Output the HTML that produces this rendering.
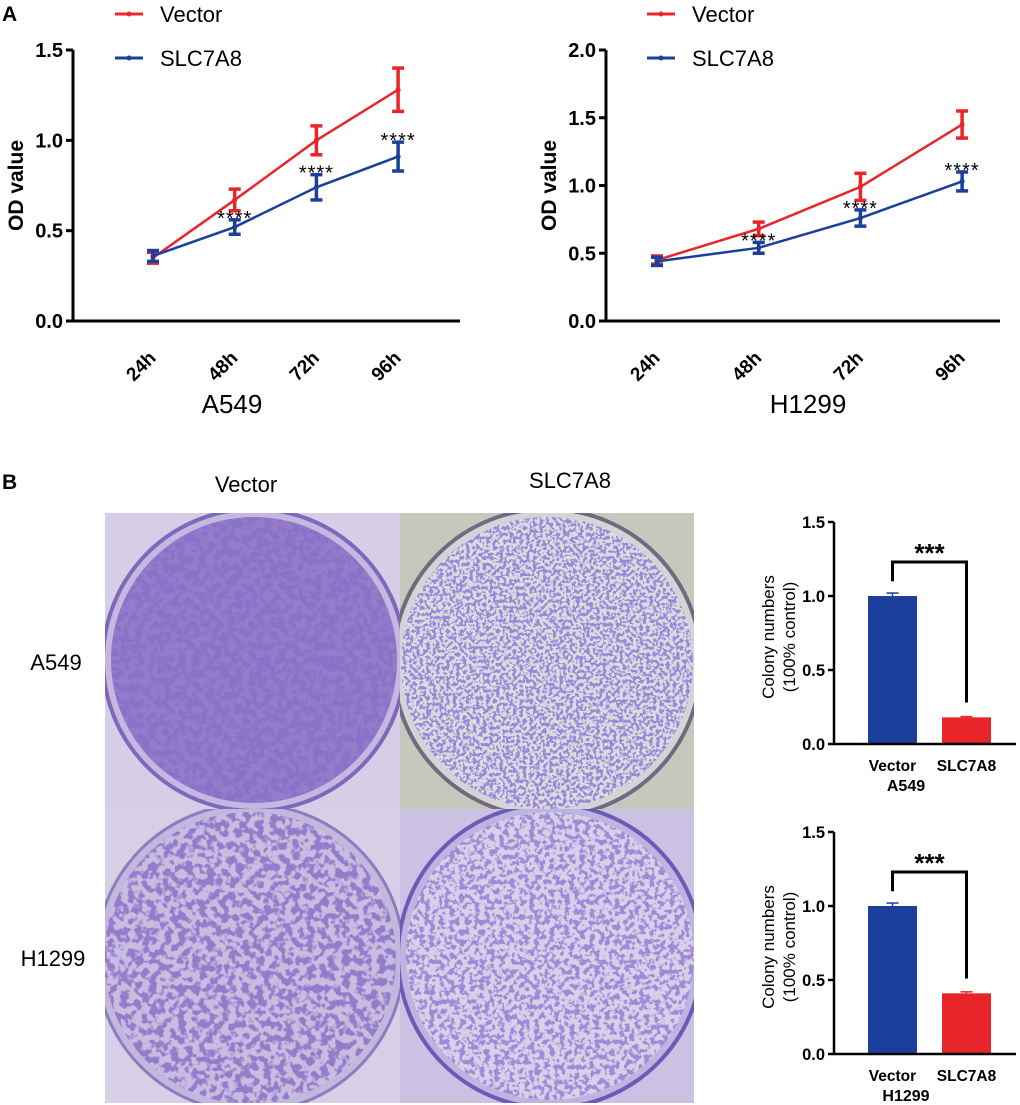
<!DOCTYPE html>
<html><head><meta charset="utf-8">
<style>
body{margin:0;background:#fff;}
svg{display:block;font-family:"Liberation Sans",Arial,sans-serif;}
</style></head>
<body>
<svg id="fig" width="1020" height="1105" viewBox="0 0 1020 1105" xmlns="http://www.w3.org/2000/svg">
<defs>
<filter id="speckDense" x="0" y="0" width="100%" height="100%">
<feTurbulence type="fractalNoise" baseFrequency="0.14" numOctaves="2" seed="3"/>
<feColorMatrix type="matrix" values="0 0 0 0 0.3  0 0 0 0 0.2  0 0 0 0 0.6  0 0 0 -8 4.4"/>
</filter>
<filter id="speckSparse" x="0" y="0" width="100%" height="100%">
<feTurbulence type="fractalNoise" baseFrequency="0.3" numOctaves="2" seed="7"/>
<feColorMatrix type="matrix" values="0 0 0 0 0.3  0 0 0 0 0.25  0 0 0 0 0.7  0 0 0 -12 6.3"/>
</filter>
<filter id="speckMid" x="0" y="0" width="100%" height="100%">
<feTurbulence type="fractalNoise" baseFrequency="0.2" numOctaves="2" seed="11"/>
<feColorMatrix type="matrix" values="0 0 0 0 0.35  0 0 0 0 0.25  0 0 0 0 0.68  0 0 0 -10 5.2"/>
</filter>
<clipPath id="c1"><circle cx="254" cy="660" r="143"/></clipPath>
<clipPath id="c2"><circle cx="547" cy="663" r="146"/></clipPath>
<clipPath id="c3"><circle cx="250" cy="958" r="146"/></clipPath>
<clipPath id="c4"><circle cx="550" cy="956" r="144"/></clipPath>
<clipPath id="t1"><rect x="105" y="513" width="295" height="296"/></clipPath>
<clipPath id="t2"><rect x="400" y="513" width="294" height="296"/></clipPath>
<clipPath id="t3"><rect x="105" y="809" width="295" height="294"/></clipPath>
<clipPath id="t4"><rect x="400" y="809" width="294" height="294"/></clipPath>
</defs>

<text x="2" y="21" font-size="21" font-weight="bold">A</text>
<text x="2" y="489" font-size="21" font-weight="bold">B</text>

<g id="lc1"></g>
<g id="lc2"></g>

<g>
<text x="246" y="492" font-size="22" text-anchor="middle">Vector</text>
<text x="570" y="488" font-size="22" text-anchor="middle">SLC7A8</text>
<text x="56" y="670" font-size="22" text-anchor="middle">A549</text>
<text x="53" y="966" font-size="22" text-anchor="middle">H1299</text>

<g clip-path="url(#t1)">
<rect x="105" y="513" width="295" height="296" fill="#d6cde6"/>
<circle cx="254" cy="660" r="151" fill="#c4b8e0" stroke="#7d68bb" stroke-width="4"/>
<circle cx="254" cy="660" r="143" fill="#8a72c8"/>
<rect x="105" y="513" width="295" height="296" fill="#fff" filter="url(#speckDense)" clip-path="url(#c1)"/>
</g>
<g clip-path="url(#t2)">
<rect x="400" y="513" width="294" height="296" fill="#c6c7bd"/>
<circle cx="547" cy="663" r="154" fill="#d4d3d6" stroke="#6f6a80" stroke-width="4"/>
<circle cx="547" cy="663" r="146" fill="#dcdcdf"/>
<rect x="400" y="513" width="294" height="296" fill="#fff" filter="url(#speckSparse)" clip-path="url(#c2)"/>
</g>
<g clip-path="url(#t3)">
<rect x="105" y="809" width="295" height="294" fill="#d6cfe6"/>
<circle cx="250" cy="958" r="154" fill="#c2b8de" stroke="#8c7cc0" stroke-width="3"/>
<circle cx="250" cy="958" r="146" fill="#c8bce0"/>
<rect x="105" y="809" width="295" height="294" fill="#fff" filter="url(#speckDense)" clip-path="url(#c3)"/>
</g>
<g clip-path="url(#t4)">
<rect x="400" y="809" width="294" height="294" fill="#cbc1e2"/>
<circle cx="550" cy="956" r="152" fill="#c0b3e0" stroke="#6d5ab8" stroke-width="4"/>
<circle cx="550" cy="956" r="144" fill="#d6d0e8"/>
<rect x="400" y="809" width="294" height="294" fill="#fff" filter="url(#speckMid)" clip-path="url(#c4)"/>
</g>
</g>

<g id="bc1"></g>
<g id="bc2"></g>
</svg>

<script>
const timeLabels = ["24h","48h","72h","96h"];
const a549Vector = [0.35, 0.67, 1.00, 1.28];
const a549VectorErr = [0.03, 0.06, 0.08, 0.12];
const a549Slc = [0.36, 0.52, 0.74, 0.91];
const a549SlcErr = [0.03, 0.04, 0.07, 0.08];
const h1299Vector = [0.45, 0.68, 0.99, 1.45];
const h1299VectorErr = [0.03, 0.05, 0.10, 0.10];
const h1299Slc = [0.44, 0.54, 0.76, 1.03];
const h1299SlcErr = [0.03, 0.04, 0.06, 0.07];
const a549Ticks = ["0.0","0.5","1.0","1.5"];
const h1299Ticks = ["0.0","0.5","1.0","1.5","2.0"];
const sigLabels = ["****","****","****"];
const barCategories = ["Vector","SLC7A8"];
const barA549 = [1.00, 0.18];
const barA549Err = [0.02, 0.005];
const barH1299 = [1.00, 0.41];
const barH1299Err = [0.02, 0.01];
const barTicks = ["0.0","0.5","1.0","1.5"];

const NS="http://www.w3.org/2000/svg";
function mk(parent, tag, attrs, txt){
  const e=document.createElementNS(NS,tag);
  for(const k in attrs) e.setAttribute(k,attrs[k]);
  if(txt!==undefined) e.textContent=txt;
  parent.appendChild(e); return e;
}
const RED="#e8262a", BLUE="#1c3f9b";

function lineChart(gid, o){
  const g=document.getElementById(gid);
  const ymax=parseFloat(o.ticks[o.ticks.length-1]);
  const y=v=>o.y0-(v/ymax)*(o.y0-o.y1);
  const x=i=>o.xs+i*o.dx;
  let e=mk(g,'line',{x1:o.ax,y1:o.y1,x2:o.ax,y2:o.y0+1.5,stroke:'#000','stroke-width':3});
   
  e=mk(g,'line',{x1:o.ax-1.5,y1:o.y0,x2:o.axEnd,y2:o.y0,stroke:'#000','stroke-width':3});
   
  o.ticks.forEach(t=>{
    const v=parseFloat(t), yy=y(v);
    mk(g,'line',{x1:o.ax-7,y1:yy,x2:o.ax,y2:yy,stroke:'#000','stroke-width':3});
    const tt=mk(g,'text',{x:o.ax-10,y:yy+7,'font-size':20,'font-weight':'bold','text-anchor':'end'},t);
     
  });
  timeLabels.forEach((t,i)=>{
    const tt=mk(g,'text',{x:x(i)+4,y:o.y0+38,'font-size':19,'font-weight':'bold','text-anchor':'end',transform:`rotate(-45 ${x(i)+4} ${o.y0+38})`},t);
     
  });
  let tt=mk(g,'text',{x:0,y:0,'font-size':21,'font-weight':'bold','text-anchor':'middle',transform:`translate(${o.ax-50} ${(o.y0+o.y1)/2}) rotate(-90)`},'OD value');
   
  tt=mk(g,'text',{x:o.titleX,y:413,'font-size':26,'text-anchor':'middle'},o.title);
   
  [[RED,'Vector',14],[BLUE,'SLC7A8',58]].forEach(([c,l,ly])=>{
    const lg=mk(g,'g',{});
     
    mk(lg,'line',{x1:o.legX,y1:ly,x2:o.legX+28,y2:ly,stroke:c,'stroke-width':3});
    mk(lg,'circle',{cx:o.legX+14,cy:ly,r:2.5,fill:c});
    mk(lg,'text',{x:o.legX+45,y:ly+8,'font-size':22},l);
  });
  const series=[[o.vec,o.vecErr,RED,'vector-series'],[o.slc,o.slcErr,BLUE,'slc7a8-series']];
  series.forEach(([vals,errs,c,name])=>{
    const sg=mk(g,'g',{});
     
    mk(sg,'polyline',{points:vals.map((v,i)=>x(i)+','+y(v)).join(' '),fill:'none',stroke:c,'stroke-width':2.5});
    vals.forEach((v,i)=>{
      const top=y(v+errs[i]), bot=y(v-errs[i]);
      const eb=mk(sg,'g',{});
       
      mk(eb,'line',{x1:x(i),y1:top,x2:x(i),y2:bot,stroke:c,'stroke-width':3.5});
      mk(eb,'line',{x1:x(i)-6,y1:top,x2:x(i)+6,y2:top,stroke:c,'stroke-width':3.5});
      mk(eb,'line',{x1:x(i)-6,y1:bot,x2:x(i)+6,y2:bot,stroke:c,'stroke-width':3.5});
      mk(eb,'circle',{cx:x(i),cy:y(v),r:2.5,fill:c});
    });
  });
  sigLabels.forEach((s,k)=>{
    const i=k+1;
    const tt=mk(g,'text',{x:x(i),y:y(o.slc[i]+o.slcErr[i])+5,'font-size':20,'text-anchor':'middle','letter-spacing':'1'},s);
     
  });
}

lineChart('lc1',{ax:73,axEnd:460,y0:321,y1:50,xs:153,dx:81.7,ticks:a549Ticks,vec:a549Vector,vecErr:a549VectorErr,slc:a549Slc,slcErr:a549SlcErr,title:'A549',titleX:232,legX:115});
lineChart('lc2',{ax:606,axEnd:1000,y0:321,y1:50,xs:657,dx:101.7,ticks:h1299Ticks,vec:h1299Vector,vecErr:h1299VectorErr,slc:h1299Slc,slcErr:h1299SlcErr,title:'H1299',titleX:808,legX:647});

function barChart(gid,o){
  const g=document.getElementById(gid);
  const ymax=parseFloat(o.ticks[o.ticks.length-1]);
  const y=v=>o.y0-(v/ymax)*(o.y0-o.y1);
  const bx=[868,942], bw=49, cols=[BLUE,RED];
  o.vals.forEach((v,i)=>{
    const r=mk(g,'rect',{x:bx[i],y:y(v),width:bw,height:o.y0-y(v),fill:cols[i]});
     
    const t=y(v+o.errs[i]);
    mk(g,'line',{x1:bx[i]+bw/2,y1:t,x2:bx[i]+bw/2,y2:y(v),stroke:cols[i],'stroke-width':1.5});
    mk(g,'line',{x1:bx[i]+bw/2-6,y1:t,x2:bx[i]+bw/2+6,y2:t,stroke:cols[i],'stroke-width':1.5});
    const tt=mk(g,'text',{x:bx[i]+bw/2,y:o.y0+27,'font-size':15.5,'font-weight':'bold','text-anchor':'middle'},barCategories[i]);
     
  });
  let e=mk(g,'line',{x1:834,y1:o.y1,x2:834,y2:o.y0+1,stroke:'#000','stroke-width':2.5});
   
  e=mk(g,'line',{x1:833,y1:o.y0,x2:1016,y2:o.y0,stroke:'#000','stroke-width':2.5});
   
  o.ticks.forEach(t=>{
    const yy=y(parseFloat(t));
    mk(g,'line',{x1:828,y1:yy,x2:834,y2:yy,stroke:'#000','stroke-width':2.5});
    const tt=mk(g,'text',{x:825,y:yy+6,'font-size':16.5,'font-weight':'bold','text-anchor':'end'},t);
     
  });
  let tt=mk(g,'text',{x:0,y:0,'font-size':17,'text-anchor':'middle',transform:`translate(774 ${(o.y0+o.y1)/2+4}) rotate(-90)`},'Colony numbers');
   
  tt=mk(g,'text',{x:0,y:0,'font-size':17,'text-anchor':'middle',transform:`translate(795 ${(o.y0+o.y1)/2+4}) rotate(-90)`},'(100% control)');
   
  tt=mk(g,'text',{x:906,y:o.y0+47,'font-size':16,'font-weight':'bold','text-anchor':'middle'},o.title);
   
  const by=y(1.23), xl=bx[0]+bw/2, xr=bx[1]+bw/2;
  const br=mk(g,'polyline',{points:`${xl},${y(o.vals[0]+0.1)} ${xl},${by} ${xr},${by} ${xr},${y(o.vals[1]+0.1)}`,fill:'none',stroke:'#000','stroke-width':3});
   
  tt=mk(g,'text',{x:(xl+xr)/2,y:by,'font-size':26,'font-weight':'bold','text-anchor':'middle'},'***');
   
}
barChart('bc1',{y0:744,y1:522,ticks:barTicks,vals:barA549,errs:barA549Err,title:'A549'});
barChart('bc2',{y0:1054,y1:832,ticks:barTicks,vals:barH1299,errs:barH1299Err,title:'H1299'});
</script>
</body></html>
